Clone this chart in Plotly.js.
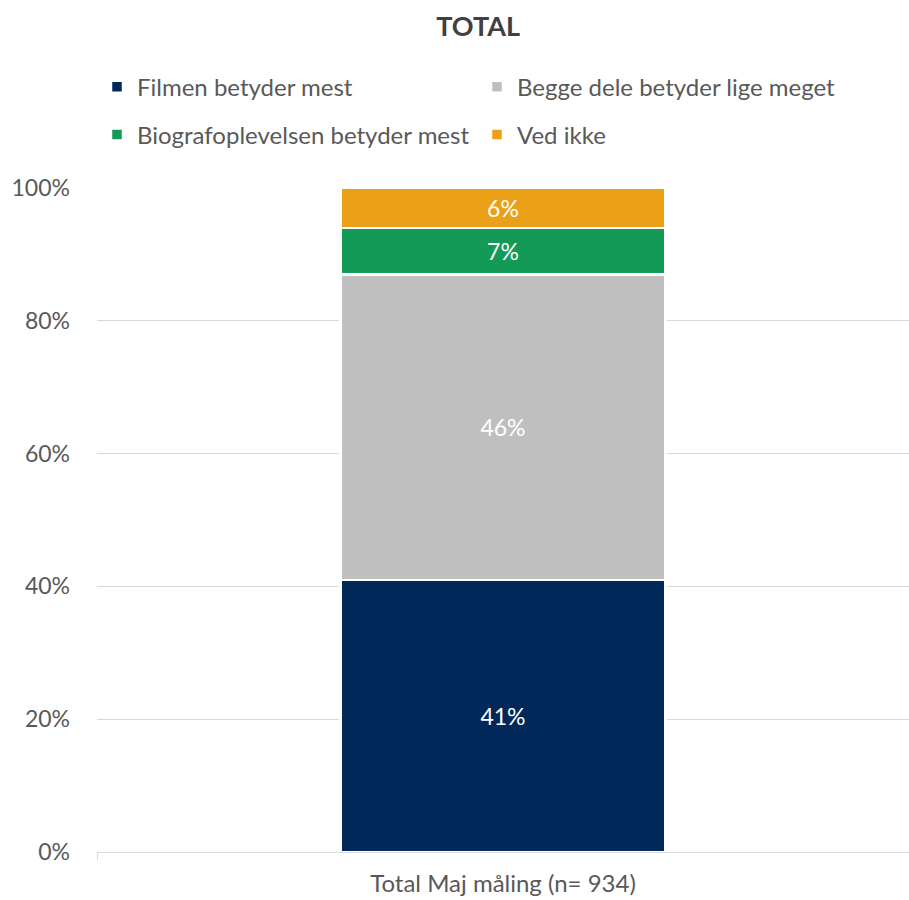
<!DOCTYPE html>
<html>
<head>
<meta charset="utf-8">
<script src="https://cdn.plot.ly/plotly-3.0.1.min.js"></script>
<style>html,body{margin:0;padding:0;background:#fff;}#chart{width:909px;height:900px;}</style>
</head>
<body>
<div id="chart"></div>
<script>
const categories = ["Total Maj måling (n= 934)"];
const seriesNames = ["Filmen betyder mest", "Begge dele betyder lige meget", "Biografoplevelsen betyder mest", "Ved ikke"];
const filmen = [41];
const begge = [46];
const biograf = [7];
const vedIkke = [6];
const seriesColors = ["#002859", "#bfbfbf", "#139a56", "#eaa118"];
const tickVals = [0, 20, 40, 60, 80, 100];
const tickText = ["0%", "20%", "40%", "60%", "80%", "100%"];

const FONT = "Lato, 'Open Sans', sans-serif";
const values = [filmen, begge, biograf, vedIkke];
const legendIds = ["legend", "legend", "legend2", "legend2"];
const traces = values.map((v, i) => ({
  type: "bar",
  name: seriesNames[i],
  legend: legendIds[i],
  x: categories,
  y: v,
  width: 0.4,
  marker: {color: seriesColors[i], line: {color: "#ffffff", width: 2.5}},
  text: v.map(d => d + "%"),
  textposition: "inside",
  insidetextanchor: "middle",
  textfont: {family: FONT, size: 23, color: "#ffffff"},
  hoverinfo: "name+y"
}));

const legendCommon = {
  orientation: "h", x: 0.0, xanchor: "left", yanchor: "middle",
  traceorder: "normal",
  entrywidth: 335, entrywidthmode: "pixels",
  itemwidth: 30,
  font: {family: FONT, size: 24, color: "#595959"},
  bgcolor: "rgba(0,0,0,0)"
};

const layout = {
  width: 909, height: 900,
  barmode: "stack",
  paper_bgcolor: "#ffffff",
  plot_bgcolor: "#ffffff",
  margin: {l: 97, r: 0, t: 188, b: 48},
  title: {text: "<b>TOTAL</b>", x: 0.526, xanchor: "center", y: 0.97, yanchor: "middle",
          font: {family: FONT, size: 27, color: "#404040"}},
  showlegend: true,
  legend: Object.assign({}, legendCommon, {y: 1.152}),
  legend2: Object.assign({}, legendCommon, {y: 1.080}),
  xaxis: {
    type: "category",
    showgrid: false,
    showline: true, linecolor: "#d9d9d9", linewidth: 1,
    ticks: "outside", tickson: "boundaries", ticklen: 7, tickcolor: "#d9d9d9",
    ticklabelstandoff: 10,
    tickfont: {family: FONT, size: 24, color: "#595959"},
    fixedrange: true
  },
  yaxis: {
    range: [0, 100],
    tickvals: tickVals, ticktext: tickText,
    showgrid: true, gridcolor: "#d9d9d9", gridwidth: 1,
    zeroline: false, showline: false,
    ticks: "", ticklabelstandoff: 26,
    tickfont: {family: FONT, size: 23, color: "#595959"},
    fixedrange: true
  }
};

Plotly.newPlot("chart", traces, layout, {displayModeBar: false, staticPlot: true});
</script>
</body>
</html>
